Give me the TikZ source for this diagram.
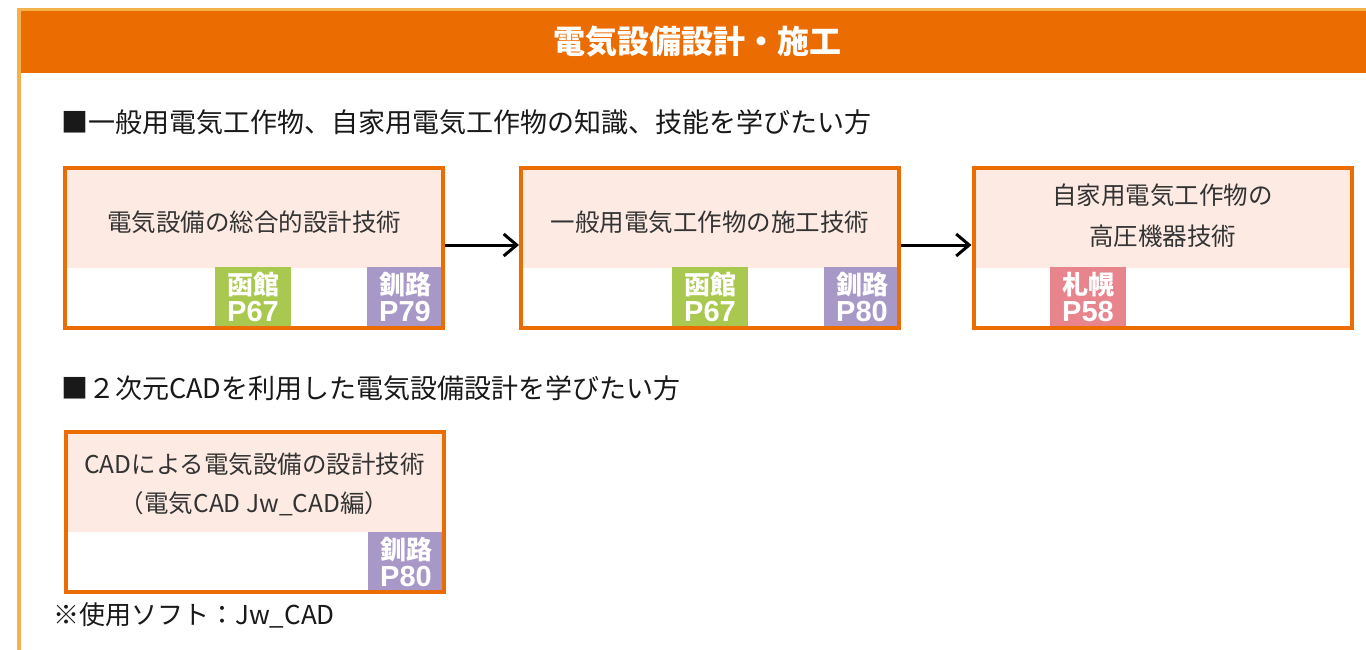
\documentclass[tikz,border=0pt]{standalone}
\usepackage{fontspec}
\setmainfont{Noto Sans CJK JP}
\newfontfamily\latinf{Liberation Sans}
\usetikzlibrary{arrows.meta}
\definecolor{hdr}{HTML}{EB6C00}
\definecolor{frameor}{HTML}{F5B24A}
\definecolor{pinkbg}{HTML}{FDEBE3}
\definecolor{gbadge}{HTML}{A8C850}
\definecolor{pbadge}{HTML}{A898C8}
\definecolor{rbadge}{HTML}{E8848C}
\definecolor{txt}{HTML}{333333}
\tikzset{
  box/.style={draw=hdr, line width=4pt, minimum width=378pt, minimum height=160pt, inner sep=0pt},
  badge/.style={minimum width=76pt, minimum height=60pt, inner sep=0pt, text=white, align=center,
    font=\fontsize{26}{27}\selectfont\bfseries},
  lbl/.style={text=txt, align=center, inner sep=0pt, font=\fontsize{24.5}{41}\selectfont},
  head/.style={text=black!90, anchor=west, inner sep=0pt, font=\fontsize{27}{30}\selectfont},
  arr/.style={line width=3pt, -{Straight Barb[length=13pt,width=22pt,line width=3pt]}}
}
\newcommand{\pg}[1]{{\latinf\fontsize{29}{27}\selectfont #1}}
\begin{document}
\begin{tikzpicture}[x=1pt,y=-1pt]
\useasboundingbox (0,0) rectangle (1366,650);
\fill[white] (0,0) rectangle (1366,650);
% frame and header
\fill[frameor] (17,8) rectangle (1366,650);
\fill[white] (21,73) rectangle (1366,650);
\fill[hdr] (21,11) rectangle (1366,73);
\node[text=white, inner sep=0pt, font=\fontsize{32}{36}\selectfont\bfseries] (title) at (697,42) {電気設備設計・施工};
% heading 1
\node[head] (h1) at (61,122) {■一般用電気工作物、自家用電気工作物の知識、技能を学びたい方};
% box 1
\fill[pinkbg] (65,168) rectangle (443,268);
\node[badge, fill=gbadge] (b1a) at (253,297) {函館\\\pg{P67}};
\node[badge, fill=pbadge] (b1b) at (405,297) {釧路\\\pg{P79}};
\node[box] (b1) at (254,248) {};
\node[lbl] (t1) at (254,222) {電気設備の総合的設計技術};
% box 2
\fill[pinkbg] (521,168) rectangle (898,268);
\node[badge, fill=gbadge] (b2a) at (710,297) {函館\\\pg{P67}};
\node[badge, fill=pbadge] (b2b) at (862,297) {釧路\\\pg{P80}};
\node[box] (b2) at (710,248) {};
\node[lbl] (t2) at (710,222) {一般用電気工作物の施工技術};
% box 3
\fill[pinkbg] (974,168) rectangle (1351,268);
\node[badge, fill=rbadge] (b3a) at (1088,297) {札幌\\\pg{P58}};
\node[box] (b3) at (1162.5,248) {};
\node[lbl] (t3) at (1162.5,216) {自家用電気工作物の\\高圧機器技術};
% arrows
\draw[arr] ([yshift=3pt]b1.east) -- ([yshift=3pt]b2.west);
\draw[arr] ([yshift=3pt]b2.east) -- ([yshift=3pt]b3.west);
% heading 2
\node[head] (h2) at (61,388) {■２次元CADを利用した電気設備設計を学びたい方};
% box 4
\fill[pinkbg] (65,432) rectangle (444,532);
\node[badge, fill=pbadge] (b4a) at (406,562) {釧路\\\pg{P80}};
\node[box] (b4) at (254.5,512) {};
\node[lbl, font=\fontsize{24.5}{39}\selectfont] (t4) at (254.5,484) {CADによる電気設備の設計技術\\（電気CAD Jw\_CAD編）};
% note
\node[head, font=\fontsize{26}{30}\selectfont] (note) at (53,615) {※使用ソフト：Jw\_CAD};
\end{tikzpicture}
\end{document}
